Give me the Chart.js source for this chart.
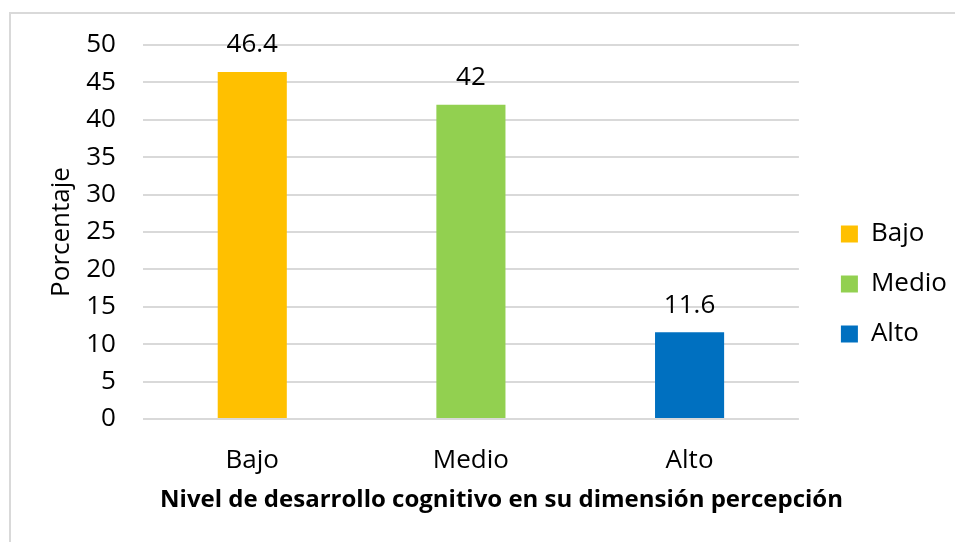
<!DOCTYPE html>
<html>
<head>
<meta charset="utf-8">
<script src="https://cdn.jsdelivr.net/npm/chart.js@4"></script>
<style>
  body { margin: 0; background: #fff; overflow: hidden; }
  #marco {
    position: absolute; left: 9px; top: 12px; width: 950px; height: 540px;
    border: 2px solid #d9d9d9; box-sizing: border-box;
  }
  canvas { display: block; }
</style>
</head>
<body>
<div id="marco"><canvas id="grafico" width="946" height="536"></canvas></div>
<script>
// Datos del gráfico
const categorias = ['Bajo', 'Medio', 'Alto'];
const porcentajes = [46.4, 42, 11.6];
const colores = ['#FFC000', '#92D050', '#0070C0'];
const fuente = '"Open Sans", Lato, sans-serif';

// Etiquetas encima de cada barra
const etiquetasValor = {
  id: 'etiquetasValor',
  afterDatasetsDraw(chart) {
    const ctx = chart.ctx;
    const meta = chart.getDatasetMeta(0);
    ctx.save();
    ctx.font = '26px ' + fuente;
    ctx.fillStyle = '#000';
    ctx.textAlign = 'center';
    ctx.textBaseline = 'middle';
    meta.data.forEach((barra, i) => {
      ctx.fillText(String(porcentajes[i]), barra.x, barra.y - 27);
    });
    ctx.restore();
  }
};

const ctx = document.getElementById('grafico').getContext('2d');
const grafico = new Chart(ctx, {
  type: 'bar',
  data: {
    labels: categorias,
    datasets: [{
      label: 'Porcentaje',
      data: porcentajes,
      backgroundColor: colores,
      categoryPercentage: 1,
      barPercentage: 0.316
    }]
  },
  options: {
    responsive: false,
    animation: false,
    layout: {
      padding: { top: 31, right: 0, left: 35, bottom: 27 }
    },
    scales: {
      x: {
        // marcas transparentes para separar las etiquetas del eje
        grid: { display: true, drawOnChartArea: false, drawTicks: true, tickLength: 26, tickColor: 'transparent' },
        border: { display: false },
        ticks: { color: '#000', font: { size: 26, family: fuente }, padding: 0 }
      },
      y: {
        min: 0,
        max: 50,
        ticks: { stepSize: 5, color: '#000', font: { size: 26, family: fuente }, padding: 0 },
        grid: { color: '#d9d9d9', lineWidth: 2, drawTicks: true, tickLength: 27, tickColor: 'transparent' },
        border: { display: false },
        title: {
          display: true,
          text: 'Porcentaje',
          color: '#000',
          font: { size: 26, family: fuente },
          padding: { top: 0, bottom: 9 }
        }
      },
      // eje vacío: solo deja espacio entre el gráfico y la leyenda
      y2: {
        position: 'right',
        display: true,
        ticks: { display: false },
        grid: { display: false },
        border: { display: false },
        afterFit: escala => { escala.width = 18; }
      }
    },
    plugins: {
      // título del eje X, centrado en todo el ancho como en el original
      title: {
        display: true,
        position: 'bottom',
        text: 'Nivel de desarrollo cognitivo en su dimensión percepción',
        color: '#000',
        font: { size: 24, weight: 'bold', family: fuente },
        padding: { top: 10, bottom: 8 }
      },
      legend: {
        position: 'right',
        labels: {
          color: '#000',
          boxWidth: 17,
          boxHeight: 17,
          padding: 24,
          font: { size: 26, family: fuente },
          generateLabels: chart => categorias.map((c, i) => ({
            text: c,
            fillStyle: colores[i],
            strokeStyle: colores[i],
            lineWidth: 0,
            index: i
          }))
        }
      },
      tooltip: { enabled: false }
    }
  },
  plugins: [etiquetasValor]
});
</script>
</body>
</html>
